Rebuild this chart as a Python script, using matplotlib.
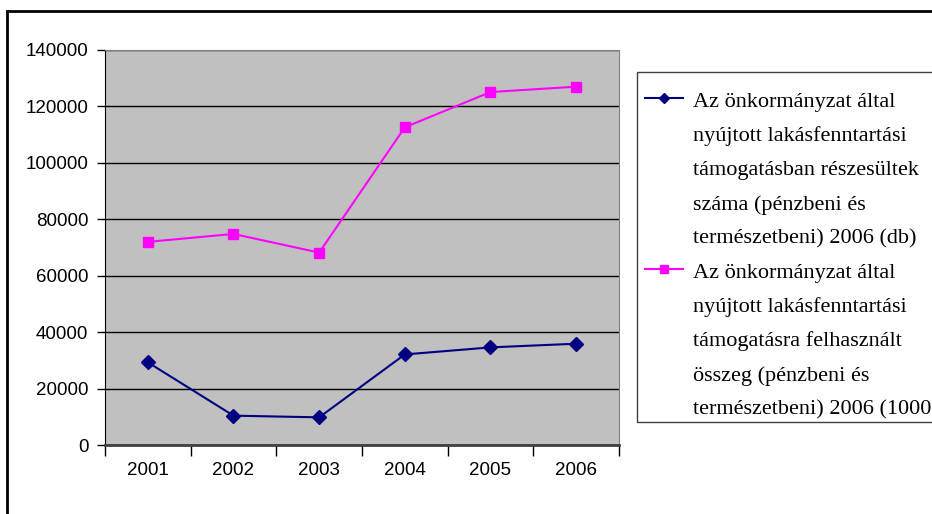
import matplotlib
matplotlib.use("Agg")
import matplotlib.pyplot as plt
from matplotlib.patches import Rectangle
from matplotlib.lines import Line2D

# data
years = ["2001", "2002", "2003", "2004", "2005", "2006"]
reszesultek = [29300, 10400, 9800, 32100, 34600, 35900]
osszeg = [72000, 74800, 68200, 112600, 125100, 127000]
label_1 = ["Az önkormányzat által", "nyújtott lakásfenntartási", "támogatásban részesültek",
           "száma (pénzbeni és", "természetbeni) 2006 (db)"]
label_2 = ["Az önkormányzat által", "nyújtott lakásfenntartási", "támogatásra felhasznált",
           "összeg (pénzbeni és", "természetbeni) 2006 (1000"]
y_ticks = [0, 20000, 40000, 60000, 80000, 100000, 120000, 140000]

W, H = 932, 514
fig = plt.figure(figsize=(W/100, H/100), dpi=100)
ax = fig.add_axes([105/W, 1-445/H, 514/W, 395/H])
ax.set_facecolor("#c0c0c0")

x = list(range(len(years)))
ax.plot(x, reszesultek, color="#000080", marker="D", markersize=7, linewidth=1.5)
ax.plot(x, osszeg, color="#ff00ff", marker="s", markersize=7.5, linewidth=1.5)

ax.set_xlim(-0.5, len(years) - 0.5)
ax.set_ylim(0, 140000)
ax.set_yticks(y_ticks)
ax.set_yticklabels([str(v) for v in y_ticks], family="Liberation Sans", fontsize=13.5)
ax.yaxis.grid(True, color="black", linewidth=1)
ax.set_axisbelow(True)

# category boundaries get the tick marks, centres get the labels
ax.set_xticks([i - 0.5 for i in range(len(years) + 1)])
ax.set_xticklabels([])
ax.set_xticks(x, minor=True)
ax.set_xticklabels(years, minor=True, family="Liberation Sans", fontsize=13.5)
ax.tick_params(axis="x", which="major", length=8, width=1, direction="out")
ax.tick_params(axis="x", which="minor", length=0, pad=12)
ax.tick_params(axis="y", length=6, width=1, pad=6)

ax.spines["left"].set_color("black")
ax.spines["bottom"].set_color("#404040")
ax.spines["bottom"].set_linewidth(2)
ax.spines["top"].set_color("#808080")
ax.spines["right"].set_color("#808080")

# legend drawn by hand: handle sits next to the first line of each entry
fig.patches.append(Rectangle((637/W, 1-422/H), 0.5, 350/H, transform=fig.transFigure,
                             fill=False, edgecolor="#404040", linewidth=1))
entries = [(label_1, "#000080", "D", 5.5), (label_2, "#ff00ff", "s", 6)]
line_step = 34.2
base = 107
for n, (lines, col, mk, ms) in enumerate(entries):
    y0 = base + n * len(label_1) * line_step
    fig.lines.append(Line2D([645/W, 683/W], [1-(y0-9)/H]*2, transform=fig.transFigure,
                            color=col, linewidth=1.5))
    fig.lines.append(Line2D([664/W], [1-(y0-9)/H], transform=fig.transFigure,
                            color=col, marker=mk, markersize=ms, linestyle="none"))
    for k, s in enumerate(lines):
        fig.text(693/W, 1-(y0 + k*line_step)/H, s, family="Liberation Serif", fontsize=16,
                 va="baseline", ha="left")

# outer chart border, runs off the right and bottom edge
fig.patches.append(Rectangle((7/W, -0.1), 1.2, 1.1 - 11/H, transform=fig.transFigure,
                             fill=False, edgecolor="black", linewidth=2))

fig.savefig("out.png", dpi=100)
